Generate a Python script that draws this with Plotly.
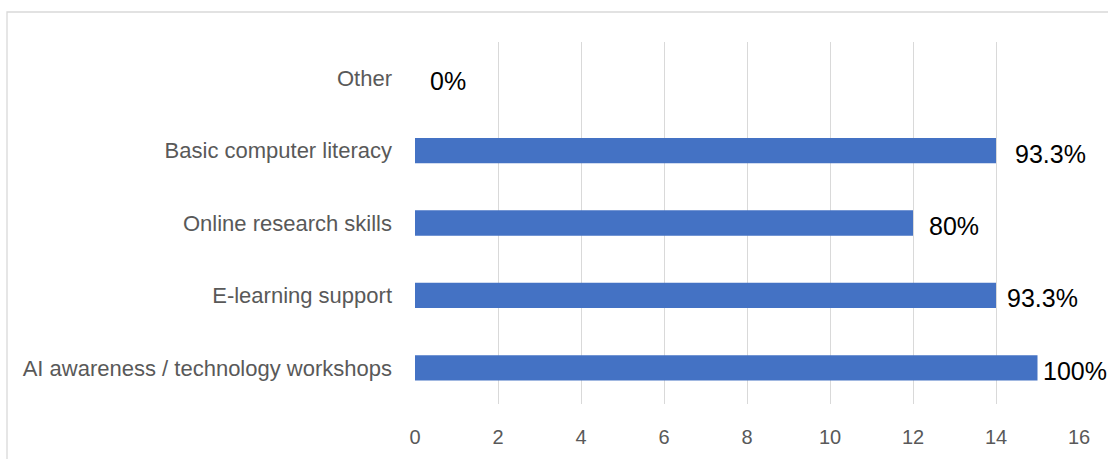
import plotly.graph_objects as go

categories = ["Other", "Basic computer literacy", "Online research skills",
              "E-learning support", "AI awareness / technology workshops"]
counts = [0, 14, 12, 14, 15]
pct_labels = ["0%", "93.3%", "80%", "93.3%", "100%"]
x_ticks = [0, 2, 4, 6, 8, 10, 12, 14, 16]

# label offsets from bar end (styling, px)
label_gap = [14, 18, 15, 10, 4]

FONT = "Liberation Sans, Arial, sans-serif"

W, H = 1108, 459
L, R, T, B = 415, 29, 42, 55
plot_w = W - L - R
plot_h = H - T - B

fig = go.Figure()
fig.add_trace(go.Bar(
    y=categories, x=counts, orientation="h",
    marker=dict(color="#4472C4", line=dict(width=0)),
    width=0.35, hoverinfo="skip",
))

for cat, val, lab, gap in zip(categories, counts, pct_labels, label_gap):
    fig.add_annotation(x=val, y=cat, text=lab, showarrow=False,
                       xanchor="left", yanchor="middle", xshift=gap, yshift=-3,
                       borderpad=0,
                       font=dict(family=FONT, size=25, color="#000000"))

fig.update_layout(
    width=W, height=H,
    margin=dict(l=L, r=R, t=T, b=B),
    paper_bgcolor="white", plot_bgcolor="white",
    showlegend=False,
    font=dict(family=FONT),
    xaxis=dict(range=[0, 16], tickvals=x_ticks, showgrid=True,
               gridcolor="#D9D9D9", gridwidth=1.3, zeroline=False,
               showline=False, ticks="",
               tickfont=dict(family=FONT, size=20, color="#595959"),
               ticklabelstandoff=19, fixedrange=True),
    yaxis=dict(autorange="reversed", showgrid=False, zeroline=False,
               showline=False, ticks="",
               tickfont=dict(family=FONT, size=22, color="#595959"),
               ticklabelstandoff=22, fixedrange=True),
    shapes=[dict(type="rect", xref="paper", yref="paper",
                 x0=(7 - L) / plot_w, x1=1.2, y0=-0.3, y1=(plot_h + T - 12) / plot_h,
                 line=dict(color="#D9D9D9", width=1.3), fillcolor="rgba(0,0,0,0)",
                 layer="below")],
)

fig.write_html("out.html",
               config={"displayModeBar": False},
               post_script="document.body.style.margin='0';"
                           "document.body.style.overflow='hidden';")
